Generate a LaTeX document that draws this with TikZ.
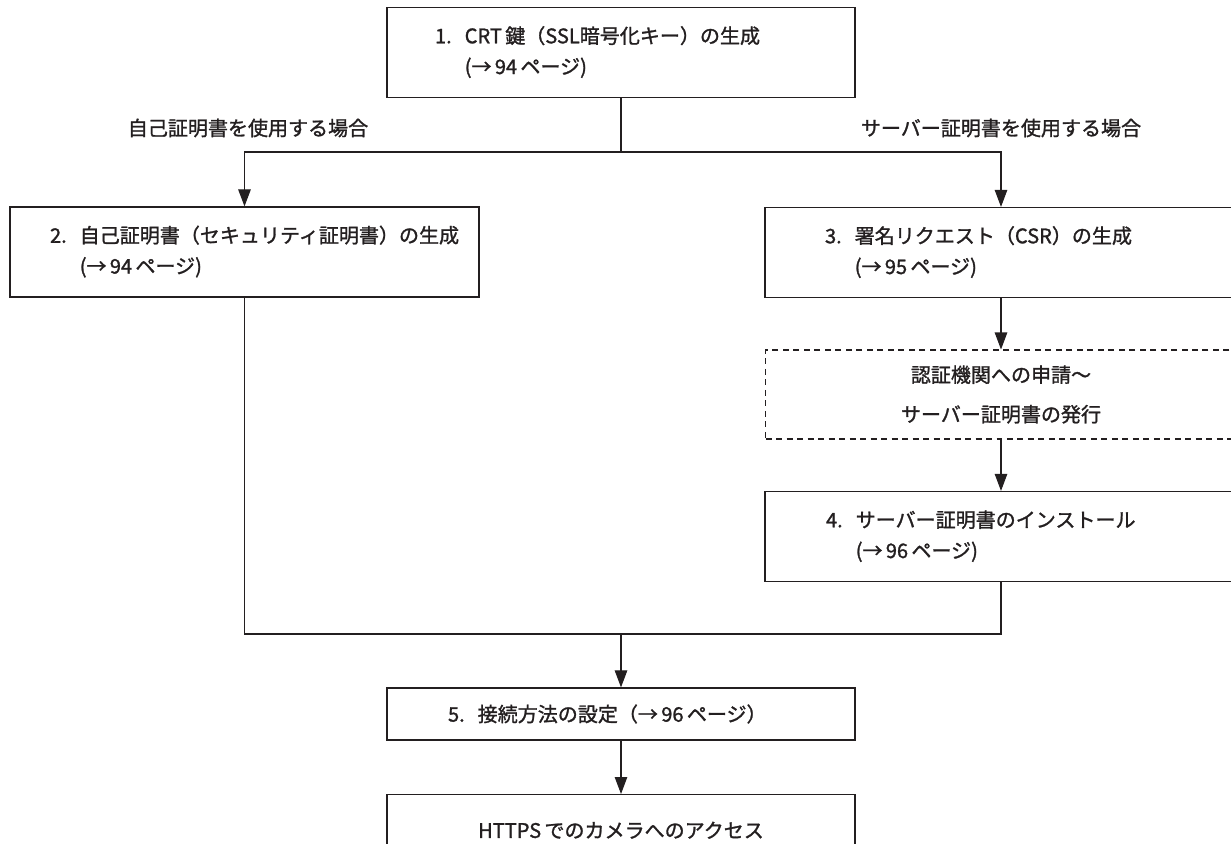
\documentclass[tikz,border=0pt]{standalone}
\usepackage{fontspec}
\setmainfont{Noto Sans CJK JP}[BoldFont=Noto Sans CJK JP, BoldFeatures={FakeBold=1.3}]
\usetikzlibrary{arrows.meta,positioning}
\definecolor{inkgray}{RGB}{35,31,32}
\newcommand{\jptext}{\fontsize{11.4}{17.5}\selectfont\bfseries}
\newcommand{\steplines}[3]{\begin{tabular}{@{}l@{\hspace{0.65em}}l@{}}#1 & #2\\ & #3\end{tabular}}

\begin{document}
\begin{tikzpicture}[x=0.02cm, y=-0.02cm,
    stepbox/.style={rectangle, draw=inkgray, line width=0.7pt, align=left,
      minimum height=1.8cm, font=\jptext, text=inkgray},
    notebox/.style={rectangle, draw=inkgray, line width=0.6pt, dash pattern=on 0.12cm off 0.09cm,
      align=center, minimum width=9.42cm, minimum height=1.78cm, font=\jptext, text=inkgray},
    caselabel/.style={font=\jptext, text=inkgray},
    conn/.style={line width=0.6pt, inkgray},
    arr/.style={-{Triangle[length=0.34cm, width=0.25cm]}, line width=0.6pt, inkgray}
  ]
  \useasboundingbox (0,0) rectangle (1231,843);

  \node[stepbox, text width=7.44cm, inner xsep=0.96cm] (crtkey)   at (621,52.5)
    {\steplines{1.}{CRT\,鍵（SSL暗号化キー）の生成}{(→\,94\,ページ)}};
  \node[stepbox, text width=7.78cm, inner xsep=0.8cm]  (selfcert) at (244.5,252)
    {\steplines{2.}{自己証明書（セキュリティ証明書）の生成}{(→\,94\,ページ)}};
  \node[stepbox, text width=7.04cm, inner xsep=1.2cm]  (csr)      at (1001,252.5)
    {\steplines{3.}{署名リクエスト（CSR）の生成}{(→\,95\,ページ)}};
  \node[notebox] (caissue) at (1001,394.5) {認証機関への申請〜\\[5pt]サーバー証明書の発行};
  \node[stepbox, text width=7.0cm, inner xsep=1.22cm]  (install)  at (1001,536.5)
    {\steplines{4.}{サーバー証明書のインストール}{(→\,96\,ページ)}};
  \node[stepbox, text width=6.92cm, inner xsep=1.22cm, minimum height=1.04cm] (connset) at (621,714)
    {5.\hspace{0.65em}接続方法の設定（→\,96\,ページ）};
  \node[stepbox, anchor=north, align=center, minimum width=9.36cm, inner ysep=0pt,
    text height=0.53cm, text depth=0.6cm] (access) at (621,794) {HTTPS\,でのカメラへのアクセス};

  \node[caselabel] (selfcase)   at (248,128)  {自己証明書を使用する場合};
  \node[caselabel] (servercase) at (1001,128) {サーバー証明書を使用する場合};

  \coordinate (fork)  at (621,152);
  \coordinate (merge) at (621,634);

  \draw[conn] (crtkey.south) -- (fork);
  \draw[arr] (fork) -| (selfcert.north);
  \draw[arr] (fork) -| (csr.north);
  \draw[arr] (csr.south) -- (caissue.north);
  \draw[arr] (caissue.south) -- (install.north);

  % both paths join before the connection setting
  \draw[conn] (selfcert.south) |- (merge);
  \draw[conn] (install.south) |- (merge);
  \draw[arr] (merge) -- (connset.north);
  \draw[arr] (connset.south) -- (access.north);
\end{tikzpicture}
\end{document}
